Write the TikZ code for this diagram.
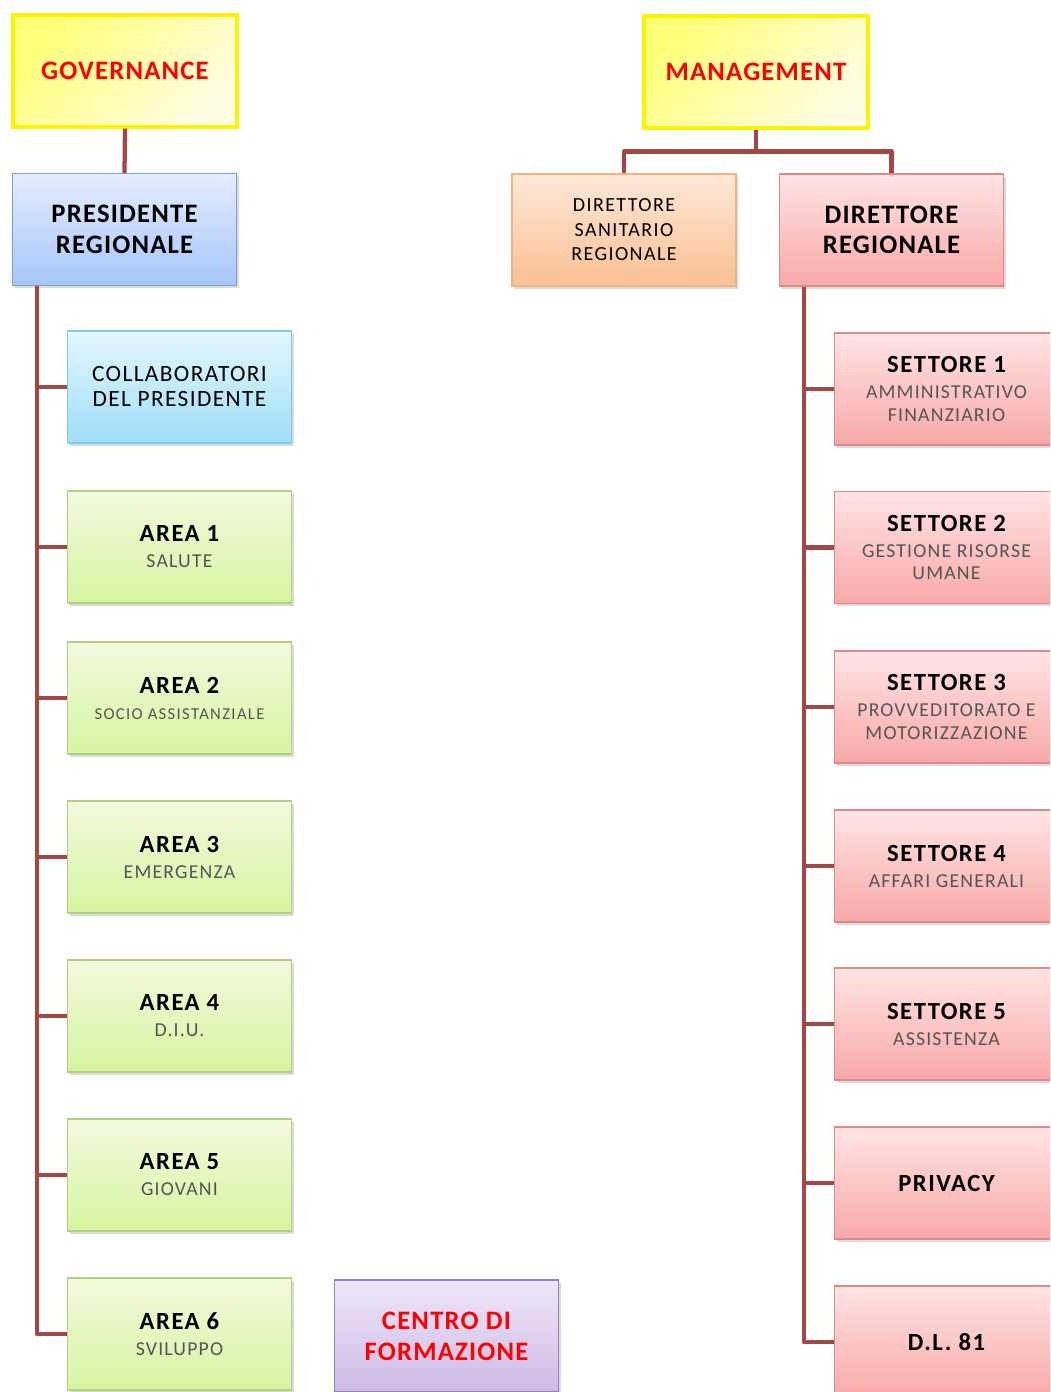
\documentclass[tikz,border=0pt]{standalone}
\usepackage{fontspec}
\setmainfont{Carlito}
\newfontfamily\fama[LetterSpace=4.5]{Carlito}
\newfontfamily\famb[LetterSpace=6]{Carlito}
\newfontfamily\famc[LetterSpace=7]{Carlito}
\newfontfamily\famd[LetterSpace=8]{Carlito}
\usetikzlibrary{shadows}
\definecolor{lnk}{HTML}{A34646}
\definecolor{subgray}{HTML}{555555}
\definecolor{redtxt}{HTML}{FF0000}
\newcommand\ftop{\fama\fontsize{20}{23}\selectfont\bfseries}
\newcommand\fhead{\famb\fontsize{18.5}{21}\selectfont\bfseries}
\newcommand\fsub{\famb\fontsize{14.8}{17}\selectfont\color{subgray}}
\newcommand\fsubsmall{\famd\fontsize{12.5}{17}\selectfont\color{subgray}}
\newcommand\fmid{\famc\fontsize{15}{18.4}\selectfont}
\newcommand\fcol{\famb\fontsize{17.5}{18.75}\selectfont}
\newcommand\fbase{\fontsize{14.8}{17}\selectfont}
\tikzset{
  box/.style={minimum width=168pt, minimum height=84pt, inner sep=2pt, align=center, line width=1pt},
  shd/.style={drop shadow={opacity=0.28, shadow xshift=1.5pt, shadow yshift=-2pt}},
  yelbox/.style={box, draw=yellow, line width=2.3pt, top color={rgb,255:red,255;green,255;blue,120}, bottom color={rgb,255:red,255;green,253;blue,225}, shading angle=45, font=\ftop\color{redtxt}},
  bluebox/.style={box, shd, draw={rgb,255:red,120;green,160;blue,210}, top color={rgb,255:red,228;green,236;blue,255}, bottom color={rgb,255:red,166;green,198;blue,248}, font=\ftop},
  cyanbox/.style={box, shd, draw={rgb,255:red,130;green,200;blue,232}, top color={rgb,255:red,226;green,247;blue,255}, bottom color={rgb,255:red,160;green,222;blue,248}, font=\fcol},
  greenbox/.style={box, shd, draw={rgb,255:red,178;green,208;blue,130}, top color={rgb,255:red,242;green,250;blue,222}, bottom color={rgb,255:red,214;green,244;blue,160}, font=\fbase},
  orangebox/.style={box, shd, draw={rgb,255:red,244;green,178;blue,130}, top color={rgb,255:red,255;green,232;blue,216}, bottom color={rgb,255:red,250;green,192;blue,146}, font=\fmid},
  pinkbox/.style={box, shd, draw={rgb,255:red,222;green,138;blue,138}, top color={rgb,255:red,255;green,228;blue,228}, bottom color={rgb,255:red,248;green,168;blue,168}, font=\fbase},
  purplebox/.style={box, shd, draw={rgb,255:red,150;green,128;blue,190}, top color={rgb,255:red,238;green,230;blue,250}, bottom color={rgb,255:red,204;green,186;blue,228}, font=\ftop\color{redtxt}},
  conn/.style={draw=lnk, line width=3.2pt, line join=round}
}
\begin{document}
\begin{tikzpicture}[x=0.75pt, y=-0.75pt]
\useasboundingbox (0,0) rectangle (1050,1392);
\clip (0,0) rectangle (1050,1392);
\fill[white] (0,0) rectangle (1050,1392);

% top level
\node[yelbox] (gov) at (125,71) {GOVERNANCE};
\node[yelbox] (man) at (756,72) {MANAGEMENT};

% second level
\node[bluebox] (pres) at (124.5,229.5) {PRESIDENTE\\REGIONALE};
\node[orangebox] (dsr) at (624,230) {DIRETTORE\\SANITARIO\\REGIONALE};
\node[pinkbox, font=\ftop] (dr) at (891.5,230) {DIRETTORE\\REGIONALE};

% left children
\node[cyanbox] (collab) at (179.5,387) {COLLABORATORI\\DEL PRESIDENTE};
\node[greenbox] (a1) at (179.5,547) {{\fhead AREA 1}\\[2.5pt]{\fsub SALUTE}};
\node[greenbox] (a2) at (179.5,698) {{\fhead AREA 2}\\[2.5pt]{\fsubsmall SOCIO ASSISTANZIALE}};
\node[greenbox] (a3) at (179.5,857) {{\fhead AREA 3}\\[2.5pt]{\fsub EMERGENZA}};
\node[greenbox] (a4) at (179.5,1016) {{\fhead AREA 4}\\[2.5pt]{\fsub D.I.U.}};
\node[greenbox] (a5) at (179.5,1175) {{\fhead AREA 5}\\[2.5pt]{\fsub GIOVANI}};
\node[greenbox] (a6) at (179.5,1334) {{\fhead AREA 6}\\[2.5pt]{\fsub SVILUPPO}};
\node[purplebox] (cdf) at (446.5,1336) {CENTRO DI\\FORMAZIONE};

% right children
\node[pinkbox] (s1) at (946.5,389) {{\fhead SETTORE 1}\\[2.5pt]{\fsub AMMINISTRATIVO}\\{\fsub FINANZIARIO}};
\node[pinkbox] (s2) at (946.5,547.5) {{\fhead SETTORE 2}\\[2.5pt]{\fsub GESTIONE RISORSE}\\{\fsub UMANE}};
\node[pinkbox] (s3) at (946.5,707) {{\fhead SETTORE 3}\\[2.5pt]{\fsub PROVVEDITORATO E}\\{\fsub MOTORIZZAZIONE}};
\node[pinkbox] (s4) at (946.5,866) {{\fhead SETTORE 4}\\[2.5pt]{\fsub AFFARI GENERALI}};
\node[pinkbox] (s5) at (946.5,1024) {{\fhead SETTORE 5}\\[2.5pt]{\fsub ASSISTENZA}};
\node[pinkbox, font=\fhead] (priv) at (946.5,1183) {PRIVACY};
\node[pinkbox, font=\fhead] (dl) at (946.5,1342) {D.L. 81};

% connectors
\draw[conn] (gov.south) -- (pres.north);
\draw[conn] (man.south) -- ++(0,22) -| (dsr.north);
\draw[conn] (man.south) -- ++(0,22) -| (dr.north);

\coordinate (lt) at ([xshift=18.75pt]pres.south west);
\foreach \c in {collab,a1,a2,a3,a4,a5,a6} {
  \draw[conn] (lt) |- (\c.west);
}
\coordinate (rt) at ([xshift=18.75pt]dr.south west);
\foreach \c in {s1,s2,s3,s4,s5,priv,dl} {
  \draw[conn] (rt) |- (\c.west);
}
\end{tikzpicture}
\end{document}
